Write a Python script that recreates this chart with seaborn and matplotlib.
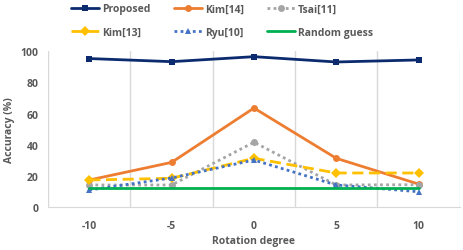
import matplotlib.pyplot as plt
import seaborn as sns
from matplotlib.ticker import FixedLocator

degrees = ['-10', '-5', '0', '5', '10']
proposed = [95.3, 93.3, 96.5, 93.1, 94.4]
kim14 = [17.5, 28.8, 63.6, 31.4, 14.9]
tsai11 = [14.3, 14.3, 41.7, 14.3, 14.5]
kim13 = [17.5, 18.6, 31.4, 22.0, 22.0]
ryu10 = [11.1, 18.8, 30.3, 14.3, 10.0]
random_guess = [12.5, 12.5, 12.5, 12.5, 12.5]

sns.set_style('white')
plt.rcParams['font.family'] = ['Open Sans', 'DejaVu Sans']
plt.rcParams['font.weight'] = 'bold'

fig = plt.figure(figsize=(4.63, 2.51), dpi=100)
ax = fig.add_axes([0.104, 0.170, 0.889, 0.622])

pos = list(range(len(degrees)))
series = [
    ('Proposed', proposed, '#0B2B6E', 's', '-'),
    ('Kim[14]', kim14, '#ED7D31', 'o', '-'),
    ('Tsai[11]', tsai11, '#A5A5A5', 'o', (0, (1, 1.2))),
    ('Kim[13]', kim13, '#FFC000', 'D', (0, (4, 2))),
    ('Ryu[10]', ryu10, '#4472C4', '^', (0, (1, 1.2))),
    ('Random guess', random_guess, '#00B050', None, '-'),
]
for name, vals, col, mk, ls in series:
    sns.lineplot(x=pos, y=vals, ax=ax, color=col, marker=mk, markersize=5,
                 markeredgewidth=0, linestyle=ls, linewidth=2, label=name)

ax.set_xlim(-0.5, 4.5)
ax.set_ylim(0, 100)
ax.set_xticks(pos)
ax.set_xticklabels(degrees)
ax.set_yticks([0, 20, 40, 60, 80, 100])
ax.xaxis.set_minor_locator(FixedLocator([-0.5, 0.5, 1.5, 2.5, 3.5, 4.5]))
ax.tick_params(axis='x', which='major', length=0, pad=9, labelsize=7.5, labelcolor='#595959')
ax.tick_params(axis='x', which='minor', length=4, color='#D9D9D9', width=1)
ax.tick_params(axis='y', length=0, pad=7, labelsize=7.5, labelcolor='#595959')
ax.grid(True, axis='x', which='minor', color='#D9D9D9', linewidth=1)
for s in ['top', 'right', 'left']:
    ax.spines[s].set_visible(False)
ax.spines['bottom'].set_color('#D9D9D9')

ax.set_xlabel('Rotation degree', fontsize=7.5, color='#595959', fontweight='bold', labelpad=3)
ax.set_ylabel('Accuracy (%)', fontsize=7.5, color='#595959', fontweight='bold', labelpad=4)

# legend fills row by row like the original
h, l = ax.get_legend_handles_labels()
order = [0, 3, 1, 4, 2, 5]
ax.get_legend().remove()
leg = fig.legend([h[i] for i in order], [l[i] for i in order], ncol=3, loc='upper center',
                 bbox_to_anchor=(0.48, 1.02), frameon=False, fontsize=7.5, handlelength=2.7,
                 columnspacing=2.2, handletextpad=0.3, labelspacing=1.2)
for t in leg.get_texts():
    t.set_color('#595959')

fig.savefig('out.png', dpi=100)
